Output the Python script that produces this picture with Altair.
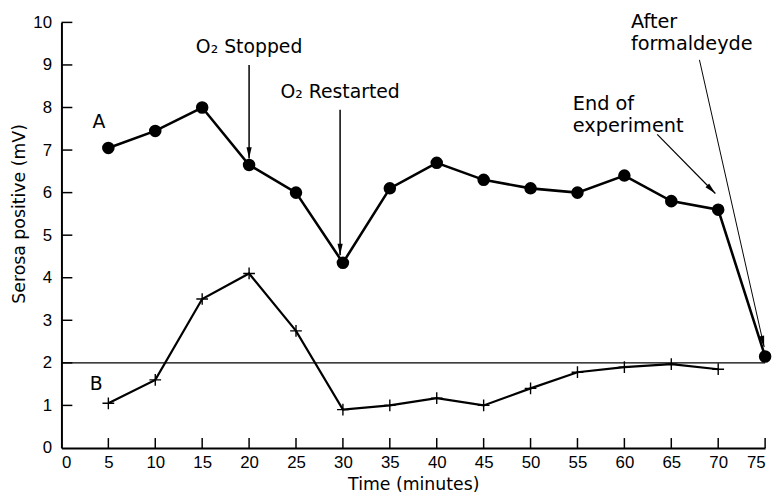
import altair as alt
import pandas as pd

# Data
time_a = [5, 10, 15, 20, 25, 30, 35, 40, 45, 50, 55, 60, 65, 70, 75]
serosa_a = [7.05, 7.45, 8.0, 6.65, 6.0, 4.35, 6.1, 6.7, 6.3, 6.1, 6.0, 6.4, 5.8, 5.6, 2.15]
time_b = [5, 10, 15, 20, 25, 30, 35, 40, 45, 50, 55, 60, 65, 70]
serosa_b = [1.05, 1.6, 3.5, 4.1, 2.75, 0.9, 1.0, 1.17, 1.0, 1.4, 1.78, 1.9, 1.97, 1.85]
x_ticks = list(range(5, 80, 5))
y_ticks = list(range(1, 11))
baseline = [2]

# Annotations (data coordinates)
arrow_x = [20, 29.7, 63.5, 68.0]
arrow_y = [9.0, 7.95, 7.37, 9.12]
arrow_x2 = [20, 29.7, 69.7, 74.9]
arrow_y2 = [6.8, 4.53, 5.98, 2.37]
arrow_angle = [180, 180, 135, 167]
arrow_width = [1.5, 1.5, 1.2, 1.0]

label_text = ["O\u2082 Stopped", "O\u2082 Restarted"]
label_x = [20, 29.7]
label_y = [9.42, 8.37]

left_text = ["End of", "experiment", "After", "formaldeyde"]
left_x = [54.5, 54.5, 60.7, 60.7]
left_y = [8.09, 7.56, 10.0, 9.49]

letter_text = ["A", "B"]
letter_x = [4.0, 3.7]
letter_y = [7.65, 1.5]

FONT = "DejaVu Sans"
NUMFONT = "Liberation Sans"

df_a = pd.DataFrame({"t": time_a, "v": serosa_a})
df_b = pd.DataFrame({"t": time_b, "v": serosa_b})
df_arrow = pd.DataFrame({"x": arrow_x, "y": arrow_y, "x2": arrow_x2, "y2": arrow_y2,
                         "angle": arrow_angle, "w": arrow_width})
df_lab = pd.DataFrame({"text": label_text, "x": label_x, "y": label_y})
df_left = pd.DataFrame({"text": left_text, "x": left_x, "y": left_y})
df_letter = pd.DataFrame({"text": letter_text, "x": letter_x, "y": letter_y})

xs = alt.Scale(domain=[0, 75], nice=False)
ys = alt.Scale(domain=[0, 10], nice=False)

X = alt.X("t:Q", scale=xs, title="Time (minutes)",
          axis=alt.Axis(values=list(range(0, 80, 5)), ticks=False, grid=False,
                        domainColor="black", domainWidth=2, labelFont=NUMFONT,
                        labelFontSize=17, labelColor="black", labelPadding=7,
                        titleFont=FONT, titleFontSize=17.5, titleFontWeight="normal",
                        titleColor="black", titlePadding=5))
Y = alt.Y("v:Q", scale=ys, title="Serosa positive (mV)",
          axis=alt.Axis(values=list(range(0, 11)), ticks=False, grid=False,
                        domainColor="black", domainWidth=2, labelFont=NUMFONT,
                        labelFontSize=17, labelColor="black", labelPadding=10,
                        titleFont=FONT, titleFontSize=17.5, titleFontWeight="normal",
                        titleColor="black", titleX=-42, titleY=193, titleAngle=270,
                        titleAlign="center", titleBaseline="middle"))

line_a = alt.Chart(df_a).mark_line(color="black", strokeWidth=2.6).encode(x=X, y=Y)
pts_a = alt.Chart(df_a).mark_point(filled=True, color="black", size=160, opacity=1).encode(
    x=alt.X("t:Q", scale=xs), y=alt.Y("v:Q", scale=ys))

line_b = alt.Chart(df_b).mark_line(color="black", strokeWidth=2.2).encode(
    x=alt.X("t:Q", scale=xs), y=alt.Y("v:Q", scale=ys))
pts_b = alt.Chart(df_b).mark_point(shape="M-1,0L1,0M0,-1L0,1", filled=False, color="black",
                                    size=140, strokeWidth=1.4, opacity=1).encode(
    x=alt.X("t:Q", scale=xs), y=alt.Y("v:Q", scale=ys))

base_rule = alt.Chart(pd.DataFrame({"v": baseline})).mark_rule(color="black", strokeWidth=1.4).encode(
    y=alt.Y("v:Q", scale=ys))

xt = alt.Chart(pd.DataFrame({"t": x_ticks})).mark_rule(color="black", strokeWidth=1.5).encode(
    x=alt.X("t:Q", scale=xs), y=alt.value(430), y2=alt.value(420))
yt = alt.Chart(pd.DataFrame({"v": y_ticks})).mark_rule(color="black", strokeWidth=1.5).encode(
    y=alt.Y("v:Q", scale=ys), x=alt.value(0), x2=alt.value(11))

arrows = alt.Chart(df_arrow).mark_rule(color="black").encode(
    x=alt.X("x:Q", scale=xs), y=alt.Y("y:Q", scale=ys), x2="x2:Q", y2="y2:Q",
    strokeWidth=alt.StrokeWidth("w:Q", scale=None))
heads = alt.Chart(df_arrow).mark_point(shape="M0,0L0.5,2.2L-0.5,2.2Z", filled=True, color="black",
                                       size=110, opacity=1).encode(
    x=alt.X("x2:Q", scale=xs), y=alt.Y("y2:Q", scale=ys),
    angle=alt.Angle("angle:Q", scale=None))

labels = alt.Chart(df_lab).mark_text(font=FONT, fontSize=19, color="black", align="center",
                                     baseline="middle").encode(
    x=alt.X("x:Q", scale=xs), y=alt.Y("y:Q", scale=ys), text="text:N")
lefts = alt.Chart(df_left).mark_text(font=FONT, fontSize=19.5, color="black", align="left",
                                     baseline="middle").encode(
    x=alt.X("x:Q", scale=xs), y=alt.Y("y:Q", scale=ys), text="text:N")
letters = alt.Chart(df_letter).mark_text(font=FONT, fontSize=19, color="black", align="center",
                                         baseline="middle").encode(
    x=alt.X("x:Q", scale=xs), y=alt.Y("y:Q", scale=ys), text="text:N")

chart = alt.layer(line_a, base_rule, xt, yt, line_b, pts_b, pts_a, arrows, heads,
                  labels, lefts, letters).properties(
    width=711, height=430,
    autosize=alt.AutoSizeParams(type="none"),
    padding={"left": 54, "top": 12, "right": 11, "bottom": 46},
    background="white",
).configure_view(stroke=None)

chart.save("out.html", embed_options={"renderer": "svg", "actions": False})
